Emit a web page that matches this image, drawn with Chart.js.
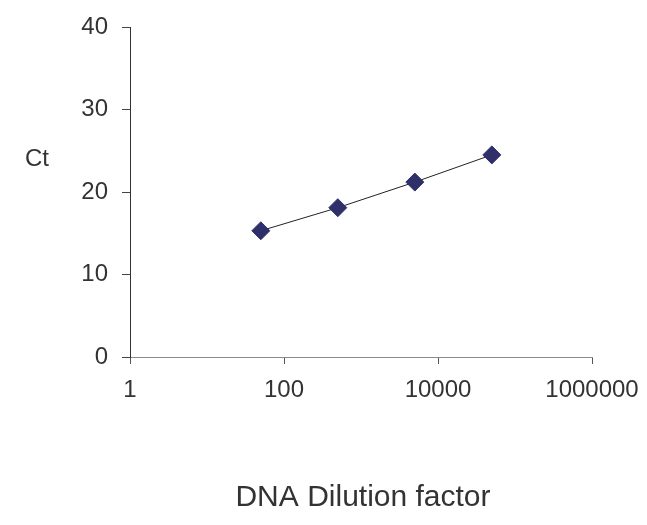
<!DOCTYPE html>
<html>
<head>
<meta charset="utf-8">
<script src="https://cdn.jsdelivr.net/npm/chart.js@4/dist/chart.umd.min.js"></script>
<style>
  html, body { margin: 0; padding: 0; background: #ffffff; }
  #wrap { width: 647px; height: 525px; }
</style>
</head>
<body>
<div id="wrap"><canvas id="c" width="647" height="525"></canvas></div>
<script>
// Data
const dilutionFactors = [50, 500, 5000, 50000];
const ctValues = [15.3, 18.1, 21.2, 24.5];
const xTickValues = [1, 100, 10000, 1000000];
const yTickValues = [0, 10, 20, 30, 40];
const xTitle = 'DNA Dilution factor';
const yTitle = 'Ct';

const FONT = '"Liberation Sans", Arial, Helvetica, sans-serif';
const TEXT = '#333333';

const titlesPlugin = {
  id: 'titles',
  afterDraw(chart) {
    const ctx = chart.ctx;
    ctx.save();
    ctx.fillStyle = TEXT;
    ctx.textAlign = 'center';
    ctx.textBaseline = 'middle';
    ctx.font = '24px ' + FONT;
    ctx.fillText(yTitle, 37, 159);
    ctx.font = '30px ' + FONT;
    ctx.fillText(xTitle, 363, 498);
    ctx.restore();
  }
};

new Chart(document.getElementById('c'), {
  type: 'scatter',
  data: {
    datasets: [{
      data: dilutionFactors.map((x, i) => ({ x: x, y: ctValues[i] })),
      showLine: true,
      borderColor: '#222222',
      borderWidth: 1,
      pointStyle: 'rectRot',
      pointRadius: 9,
      pointHoverRadius: 9,
      pointBackgroundColor: '#2f3069',
      pointBorderColor: '#2f3069',
      pointBorderWidth: 1
    }]
  },
  options: {
    responsive: false,
    animation: false,
    events: [],
    layout: { padding: { top: 27, right: 55, left: 0, bottom: 0 } },
    plugins: { legend: { display: false }, tooltip: { enabled: false } },
    scales: {
      x: {
        type: 'logarithmic',
        min: 1,
        max: 1000000,
        afterBuildTicks(scale) { scale.ticks = xTickValues.map(v => ({ value: v, major: false })); },
        afterFit(scale) { scale.height = 168; scale.paddingLeft = 0; scale.paddingRight = 0; },
        ticks: {
          color: TEXT,
          font: { family: FONT, size: 24 },
          padding: 12,
          maxRotation: 0,
          autoSkip: false,
          callback: (v) => String(v)
        },
        grid: { drawOnChartArea: false, drawTicks: true, tickLength: 7, color: '#555555', lineWidth: 1 },
        border: { display: true, color: '#8a8a8a', width: 1 }
      },
      y: {
        min: 0,
        max: 40,
        afterBuildTicks(scale) { scale.ticks = yTickValues.map(v => ({ value: v })); },
        afterFit(scale) { scale.width = 130; scale.paddingTop = 0; scale.paddingBottom = 0; },
        ticks: {
          color: TEXT,
          font: { family: FONT, size: 24 },
          padding: 14,
          callback: (v) => String(v)
        },
        grid: { drawOnChartArea: false, drawTicks: true, tickLength: 8, color: '#444444', lineWidth: 1 },
        border: { display: true, color: '#333333', width: 1 }
      }
    }
  },
  plugins: [titlesPlugin]
});
</script>
</body>
</html>
